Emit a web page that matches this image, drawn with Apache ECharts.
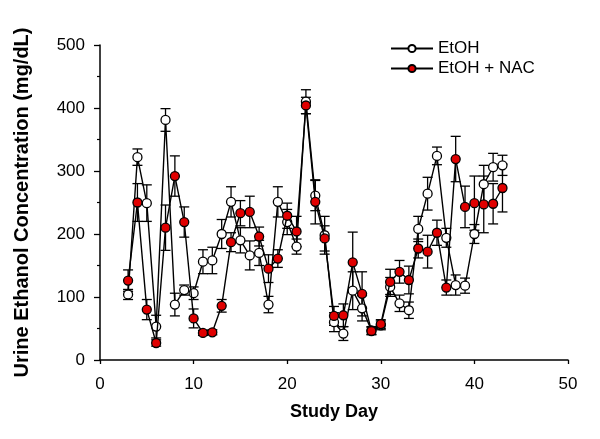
<!DOCTYPE html>
<html>
<head>
<meta charset="utf-8">
<script src="https://cdn.jsdelivr.net/npm/echarts@6/dist/echarts.min.js"></script>
<style>
html,body{margin:0;padding:0;background:#fff;}
#chart{width:600px;height:439px;}
</style>
</head>
<body>
<div id="chart"></div>
<script>
var days = [3,4,5,6,7,8,9,10,11,12,13,14,15,16,17,18,19,20,21,22,23,24,25,26,27,28,29,30,31,32,33,34,35,36,37,38,39,40,41,42,43];
var etoh    = [104,322,249,53,381,88,111,106,156,158,200,251,190,166,170,88,251,219,180,410,261,198,60,42,110,82,47,55,116,90,79,208,264,324,194,119,118,200,279,306,309];
var etohErr = [8,13,29,18,18,18,8,10,19,21,23,24,20,23,20,13,24,20,12,19,24,30,15,11,30,20,6,7,15,13,13,20,26,14,15,16,12,15,30,22,16];
var nac     = [126,250,80,27,210,292,219,66,43,44,86,187,233,235,196,145,161,229,204,404,251,193,70,71,155,105,46,57,124,140,127,177,172,202,115,319,243,249,247,248,273];
var nacErr  = [17,30,16,5,36,32,24,15,4,4,10,15,20,25,15,22,14,20,24,13,35,20,15,18,48,35,6,7,20,18,22,15,26,20,12,36,33,43,45,32,38];

function pairs(y){ return days.map(function(d,i){ return [d, y[i]]; }); }
function errData(y,e){ return days.map(function(d,i){ return [d, y[i]-e[i], y[i]+e[i]]; }); }

function errRender(params, api){
  var x = api.value(0), lo = api.value(1), hi = api.value(2);
  var pLo = api.coord([x, lo]), pHi = api.coord([x, hi]);
  var w = 5;
  var st = {stroke:'#000', lineWidth:1.3, fill:null};
  return {type:'group', children:[
    {type:'line', shape:{x1:pLo[0], y1:pLo[1], x2:pHi[0], y2:pHi[1]}, style:st},
    {type:'line', shape:{x1:pLo[0]-w, y1:pLo[1], x2:pLo[0]+w, y2:pLo[1]}, style:st},
    {type:'line', shape:{x1:pHi[0]-w, y1:pHi[1], x2:pHi[0]+w, y2:pHi[1]}, style:st}
  ]};
}

var chart = echarts.init(document.getElementById('chart'), null, {renderer:'canvas'});
var font = 'Liberation Sans, Arial, Helvetica, sans-serif';
chart.setOption({
  animation:false,
  backgroundColor:'#fff',
  textStyle:{fontFamily:font},
  grid:{left:100, right:32, top:45, bottom:79},
  legend:{
    data:['EtOH','EtOH + NAC'],
    orient:'vertical', left:385, top:35,
    itemWidth:42, itemHeight:9, itemGap:3, itemTextGap:11,
    textStyle:{fontSize:17, color:'#000', fontFamily:font}
  },
  xAxis:{
    type:'value', min:0, max:50, interval:10,
    name:'Study Day', nameLocation:'middle', nameGap:43,
    nameTextStyle:{fontSize:18, fontWeight:'bold', color:'#000', fontFamily:font},
    axisLine:{onZero:false, lineStyle:{color:'#000', width:1.5}},
    axisTick:{show:true, inside:false, length:4, lineStyle:{color:'#000', width:1.3}},
    axisLabel:{fontSize:17, color:'#000', margin:16, fontFamily:font},
    splitLine:{show:false}
  },
  yAxis:{
    type:'value', min:0, max:500, interval:100,
    name:'Urine Ethanol Concentration (mg/dL)', nameLocation:'middle', nameGap:68,
    nameTextStyle:{fontSize:20, fontWeight:'bold', color:'#000', fontFamily:font},
    axisLine:{show:true, lineStyle:{color:'#000', width:1.5}},
    axisTick:{show:true, inside:false, length:6, lineStyle:{color:'#000', width:1.3}},
    minorTick:{show:true, splitNumber:2, length:3, lineStyle:{color:'#000', width:1.2}},
    axisLabel:{fontSize:17, color:'#000', margin:15, fontFamily:font},
    splitLine:{show:false}
  },
  series:[
    {name:'EtOHerr', type:'custom', renderItem:errRender, data:errData(etoh, etohErr), z:1, silent:true},
    {name:'NACerr', type:'custom', renderItem:errRender, data:errData(nac, nacErr), z:1, silent:true},
    {name:'EtOH', type:'line', data:pairs(etoh), z:3,
      symbol:'circle', symbolSize:9,
      lineStyle:{color:'#000', width:1.4},
      itemStyle:{color:'#fff', borderColor:'#000', borderWidth:1.3}},
    {name:'EtOH + NAC', type:'line', data:pairs(nac), z:4,
      symbol:'circle', symbolSize:9,
      lineStyle:{color:'#000', width:1.4},
      itemStyle:{color:'#e00000', borderColor:'#000', borderWidth:1.3}}
  ]
});
</script>
</body>
</html>
